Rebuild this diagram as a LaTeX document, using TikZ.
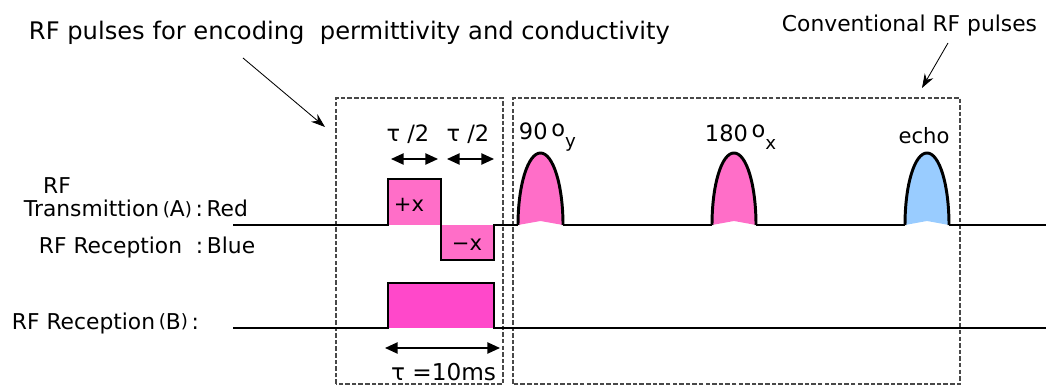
\documentclass[tikz,border=0pt]{standalone}
\usepackage{fontspec}
\setmainfont{DejaVu Sans}
\usetikzlibrary{arrows.meta}

\definecolor{txpink}{HTML}{FF6EC8}
\definecolor{rxpink}{HTML}{FF48CA}
\definecolor{echoblue}{HTML}{99CCFF}
\definecolor{boxgray}{HTML}{484848}

% small raised brackets as in the original labels
\newcommand{\lbr}{\,\raisebox{0.15ex}{\fontsize{13}{15}\selectfont(}}
\newcommand{\rbr}{\raisebox{0.15ex}{\fontsize{13}{15}\selectfont)}}

% one rounded RF pulse: left x, right x, fill colour
\newcommand{\rfpulse}[3]{%
  \fill[#3] (#1,225) .. controls (#1,185) and ({(#1+#2)/2-12.5},153) .. ({(#1+#2)/2},153)
    .. controls ({(#1+#2)/2+12.5},153) and (#2,185) .. (#2,225)
    -- ({(#1+#2)/2},221) -- cycle;
  \draw[line width=2.1pt] (#1,225) .. controls (#1,185) and ({(#1+#2)/2-12.5},153) .. ({(#1+#2)/2},153)
    .. controls ({(#1+#2)/2+12.5},153) and (#2,185) .. (#2,225);
}

\begin{document}
\begin{tikzpicture}[x=0.025cm, y=-0.025cm,
    wave/.style={line width=2.1pt, line join=miter},
    gatebox/.style={boxgray, line width=1pt, dash pattern=on 3.2pt off 1.5pt},
    span/.style={{Triangle[length=9pt,width=8pt]}-{Triangle[length=9pt,width=8pt]}, line width=1.1pt},
    note/.style={-{Stealth[length=10pt,width=7pt]}, line width=0.6pt}]
  \useasboundingbox (0,0) rectangle (1046,385);

  % titles
  \node[anchor=west, font=\fontsize{17.2}{20}\selectfont] (encLabel) at (24,33)
    {RF pulses for encoding\ \ permittivity and conductivity};
  \node[anchor=west, font=\fontsize{15.5}{18}\selectfont] (convLabel) at (777,25)
    {Conventional RF pulses};
  \coordinate (encFrom) at (243,58);
  \coordinate (encTip)  at (325,127);
  \coordinate (convFrom) at (948,43);
  \coordinate (convTip)  at (922,88);
  \draw[note] (encFrom) -- (encTip);
  \draw[note] (convFrom) -- (convTip);

  % dashed windows
  \draw[gatebox] (336,384) -- (336,98) -- (503,98) -- (503,384) -- cycle;
  \draw[gatebox] (513,384) -- (513,98) -- (960,98) -- (960,384) -- cycle;

  % channel labels
  \node[font=\fontsize{15.5}{18}\selectfont] (rfA) at (57,186) {RF};
  \node[anchor=west, font=\fontsize{15.5}{18}\selectfont] (txA) at (19,209)
    {Transmittion\lbr A\rbr\,:\,Red};
  \node[anchor=west, font=\fontsize{15.5}{18}\selectfont] (rxA) at (34,247)
    {RF Reception\ \ :\,Blue};
  \node[anchor=west, font=\fontsize{15.5}{18}\selectfont] (rxB) at (7,323)
    {RF Reception\lbr B\rbr\,:};

  % channel A: encoding pulses
  \fill[txpink] (388,179) rectangle (441,225);
  \fill[txpink] (441,225) rectangle (494,260);
  \draw[wave] (233,225) -- (388,225) -- (388,179) -- (441,179) -- (441,260)
    -- (494,260) -- (494,225) -- (518,225);
  \node[font=\fontsize{15}{17}\selectfont] (plusX) at (409,205) {+x};
  \node[font=\fontsize{15}{17}\selectfont] (minusX) at (467,245) {−x};

  % channel A: conventional pulses
  \rfpulse{518}{563}{txpink}
  \rfpulse{712}{756}{txpink}
  \rfpulse{905}{949}{echoblue}
  \draw[wave] (563,225) -- (712,225);
  \draw[wave] (756,225) -- (905,225);
  \draw[wave] (949,225) -- (1046,225);
  \node[anchor=west, font=\fontsize{16}{18}\selectfont] (ninety) at (514,137)
    {90\,\raisebox{0.3ex}{o}\raisebox{-0.6ex}{\fontsize{13}{15}\selectfont y}};
  \node[anchor=west, font=\fontsize{16}{18}\selectfont] (oneeighty) at (700,137)
    {180\,\raisebox{0.3ex}{o}\raisebox{-0.6ex}{\fontsize{13}{15}\selectfont x}};
  \node[font=\fontsize{15}{17}\selectfont] (echo) at (924,136) {echo};

  % half-width spans
  \coordinate (h1a) at (391,159);
  \coordinate (h1b) at (438,159);
  \coordinate (h2a) at (447,159);
  \coordinate (h2b) at (494,159);
  \draw[span] (h1a) -- (h1b);
  \draw[span] (h2a) -- (h2b);
  \node[font=\fontsize{16}{18}\selectfont] (halfOne) at (408,134) {τ /2};
  \node[font=\fontsize{16}{18}\selectfont] (halfTwo) at (468,134) {τ /2};

  % channel B: reception window
  \fill[rxpink] (388,283) rectangle (494,328);
  \draw[wave] (233,328) -- (388,328) -- (388,283) -- (494,283) -- (494,328)
    -- (1046,328);
  \coordinate (fullA) at (385,348);
  \coordinate (fullB) at (500,348);
  \draw[span] (fullA) -- (fullB);
  \node[anchor=east, font=\fontsize{16.5}{18}\selectfont] (tauFull) at (501,372)
    {τ =10ms};
\end{tikzpicture}
\end{document}
